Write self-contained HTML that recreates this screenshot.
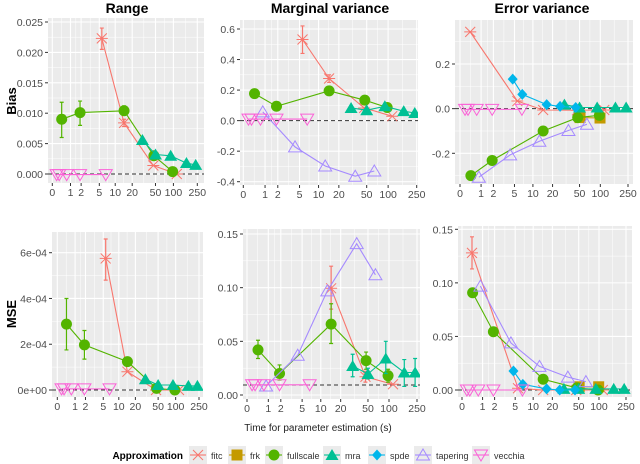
<!DOCTYPE html>
<html><head><meta charset="utf-8"><style>
body{margin:0;background:#fff;}
svg{display:block;font-family:"Liberation Sans",Arial,sans-serif;}
</style></head><body>
<svg id="chart" width="640" height="464" viewBox="0 0 640 464" xmlns="http://www.w3.org/2000/svg">
<text x="127" y="13" text-anchor="middle" font-size="14" font-weight="bold">Range</text>
<text x="330" y="13" text-anchor="middle" font-size="14" font-weight="bold">Marginal variance</text>
<text x="542" y="13" text-anchor="middle" font-size="14" font-weight="bold">Error variance</text>
<text transform="translate(16,101) rotate(-90)" text-anchor="middle" font-size="13" font-weight="bold">Bias</text>
<text transform="translate(16,314) rotate(-90)" text-anchor="middle" font-size="13" font-weight="bold">MSE</text>
<text x="318" y="431" text-anchor="middle" font-size="10" fill="#222">Time for parameter estimation (s)</text>
<g id="legend">
<text x="183" y="459" text-anchor="end" font-size="10" font-weight="bold">Approximation</text>
</g>
</svg>
<script>
// ---- data: times (s) per method ----
const tFitc=[0.4,5.6,14.4,46,114];
const tFrk=[50.8,99];
const tFull=[0.43,1.88,14.4,47,97];
const tMra=[30,50,90,165,235];
const tSpde=[4.66,6.76,16.3,25.9,44];
const tTap=[0.86,4.2,12.6,34.4,64];
const tVec=[0.18,0.3,0.73,1.88,6.66];
const xTicks=[0,1,2,5,10,20,50,100,250];

// Range bias
const rbFitc=[null,0.0223,0.0084,0.0014,0];
const rbFull=[0.009,0.0101,0.0104,0.003,0.0004];
const rbMra=[0.0056,0.0032,0.003,0.0018,0.0015];
const rbVec=[-0.0001,-0.0001,-0.0001,-0.0001,-0.0001];
const rbFitcLo=[null,0.0205,0.0078,null,null];
const rbFitcHi=[null,0.024,0.009,null,null];
const rbFullLo=[0.006,0.008,0.0097,null,null];
const rbFullHi=[0.0118,0.012,0.0112,null,null];
// Marginal variance bias
const mbFitc=[null,0.531,0.276,0.083,0.029];
const mbFull=[0.177,0.094,0.195,0.134,0.086];
const mbMra=[0.083,0.068,0.094,0.062,0.05];
const mbTap=[0.057,-0.172,-0.297,-0.364,-0.33];
const mbVec=[0.01,0.01,0.01,0.01,0.01];
const mbFitcLo=[null,0.44,0.25,null,null];
const mbFitcHi=[null,0.62,0.30,null,null];
// Error variance bias
const ebFitc=[0.344,0.034,-0.006,-0.007,-0.006];
const ebFrk=[-0.040,-0.042];
const ebFull=[-0.30,-0.232,-0.10,-0.04,-0.03];
const ebMra=[0.018,0.005,0.005,0.005,0.005];
const ebSpde=[0.132,0.064,0.018,0.01,0.005];
const ebTap=[-0.307,-0.207,-0.146,-0.098,-0.07];
const ebVec=[-0.003,-0.003,-0.003,-0.003,-0.003];
// Range MSE
const rmFitc=[null,5.75e-4,0.8e-4,0,0];
const rmFull=[2.88e-4,1.97e-4,1.24e-4,0.07e-4,0];
const rmMra=[0.47e-4,0.22e-4,0.22e-4,0.18e-4,0.18e-4];
const rmVec=[0.05e-4,0.05e-4,0.05e-4,0.05e-4,0.05e-4];
const rmFitcLo=[null,4.8e-4,null,null,null];
const rmFitcHi=[null,6.6e-4,null,null,null];
const rmFullLo=[1.75e-4,1.35e-4,1.1e-4,null,null];
const rmFullHi=[4.0e-4,2.6e-4,1.38e-4,null,null];
// Marginal variance MSE
const mmFitc=[null,null,0.0994,0.017,0.010];
const mmFull=[0.042,0.020,0.066,0.032,0.018];
const mmMra=[0.027,0.0196,0.034,0.021,0.021];
const mmTap=[0.0084,0.037,0.097,0.141,0.112];
const mmVec=[0.0095,0.0095,0.0095,0.0095,0.0095];
const mmFitcLo=[null,null,0.08,0.012,null];
const mmFitcHi=[null,null,0.12,0.022,null];
const mmFullLo=[0.034,0.014,0.048,0.024,0.012];
const mmFullHi=[0.051,0.028,0.085,0.04,0.024];
const mmMraLo=[0.017,0.015,0.02,0.008,0.008];
const mmMraHi=[0.038,0.025,0.05,0.033,0.034];
// Error variance MSE
const emFitc=[0.128,0.0016,0,0,0];
const emFrk=[0.003,0.003];
const emFull=[0.0908,0.0544,0.010,0.002,0];
const emMra=[0.001,0.001,0.001,0.001,0.001];
const emSpde=[0.0177,0.0053,0.001,0,0];
const emTap=[0.097,0.044,0.022,0.012,0.0078];
const emVec=[0,0,0,0,0];
const emFitcLo=[0.113,null,null,null,null];
const emFitcHi=[0.143,null,null,null,null];

const COL={fitc:"#F8766D",frk:"#C49A00",fullscale:"#53B400",mra:"#00C094",spde:"#00B6EB",tapering:"#A58AFF",vecchia:"#FB61D7"};
const NS="http://www.w3.org/2000/svg";
const svg=document.getElementById("chart");
function mk(tag,attrs,parent){const e=document.createElementNS(NS,tag);for(const k in attrs)e.setAttribute(k,attrs[k]);(parent||svg).appendChild(e);return e;}

function marker(g,m,x,y,c){
  let e;
  if(m==="fitc"){e=mk("path",{d:`M${x-5},${y-5}L${x+5},${y+5}M${x-5},${y+5}L${x+5},${y-5}M${x-6},${y}L${x+6},${y}`,stroke:c,"stroke-width":1,fill:"none"},g);}
  else if(m==="frk"){e=mk("rect",{x:x-5.5,y:y-5.5,width:11,height:11,fill:c},g);}
  else if(m==="fullscale"){e=mk("circle",{cx:x,cy:y,r:5.5,fill:c},g);}
  else if(m==="mra"){e=mk("path",{d:`M${x},${y-6}L${x+6.5},${y+5}L${x-6.5},${y+5}Z`,fill:c},g);}
  else if(m==="spde"){e=mk("path",{d:`M${x},${y-5.5}L${x+5},${y}L${x},${y+5.5}L${x-5},${y}Z`,fill:c},g);}
  else if(m==="tapering"){e=mk("path",{d:`M${x},${y-6}L${x+6.5},${y+5}L${x-6.5},${y+5}Z`,fill:"none",stroke:c,"stroke-width":1},g);}
  else {e=mk("path",{d:`M${x},${y+6}L${x+6.5},${y-5}L${x-6.5},${y-5}Z`,fill:"none",stroke:c,"stroke-width":1},g);}
  return e;
}

const panels=[
 {id:"range-bias",l:48,r:204,t:18,b:183,xa:52.3,xb:197.3,v1:0.025,p1:22,v2:0,p2:174,ticks:[0,0.005,0.01,0.015,0.02,0.025],lab:v=>v.toFixed(3),ref:0,
  series:[["fitc",tFitc,rbFitc,rbFitcLo,rbFitcHi],["fullscale",tFull,rbFull,rbFullLo,rbFullHi],["mra",tMra,rbMra],["vecchia",tVec,rbVec]]},
 {id:"marginal-variance-bias",l:240,r:418,t:20,b:185,xa:243.3,xb:416.7,v1:0.6,p1:29,v2:-0.4,p2:181.7,ticks:[-0.4,-0.2,0,0.2,0.4,0.6],lab:v=>v.toFixed(1),ref:0,
  series:[["fitc",tFitc,mbFitc,mbFitcLo,mbFitcHi],["fullscale",tFull,mbFull],["mra",tMra,mbMra],["tapering",tTap,mbTap],["vecchia",tVec,mbVec]]},
 {id:"error-variance-bias",l:455,r:633,t:20,b:184,xa:460,xb:628,v1:0.2,p1:64,v2:-0.2,p2:153.3,ticks:[-0.2,0,0.2],lab:v=>v.toFixed(1),ref:0,
  series:[["fitc",tFitc,ebFitc],["frk",tFrk,ebFrk],["fullscale",tFull,ebFull],["mra",tMra,ebMra],["spde",tSpde,ebSpde],["tapering",tTap,ebTap],["vecchia",tVec,ebVec]]},
 {id:"range-mse",l:52,r:203,t:232,b:397,xa:57.3,xb:199,v1:6e-4,p1:252.7,v2:0,p2:390,ticks:[0,2e-4,4e-4,6e-4],lab:v=>v===0?"0e+00":(v*1e4).toFixed(0)+"e-04",ref:0,
  series:[["fitc",tFitc,rmFitc,rmFitcLo,rmFitcHi],["fullscale",tFull,rmFull,rmFullLo,rmFullHi],["mra",tMra,rmMra],["vecchia",tVec,rmVec]]},
 {id:"marginal-variance-mse",l:243,r:420,t:229,b:399,xa:247,xb:417,v1:0.15,p1:234,v2:0,p2:395,ticks:[0,0.05,0.1,0.15],lab:v=>v.toFixed(2),ref:0.0093,
  series:[["fitc",tFitc,mmFitc,mmFitcLo,mmFitcHi],["fullscale",tFull,mmFull,mmFullLo,mmFullHi],["mra",tMra,mmMra,mmMraLo,mmMraHi],["tapering",tTap,mmTap],["vecchia",tVec,mmVec]]},
 {id:"error-variance-mse",l:458,r:632,t:226,b:397,xa:462,xb:626,v1:0.15,p1:229.3,v2:0,p2:390,ticks:[0,0.05,0.1,0.15],lab:v=>v.toFixed(2),ref:0,
  series:[["fitc",tFitc,emFitc,emFitcLo,emFitcHi],["frk",tFrk,emFrk],["fullscale",tFull,emFull],["mra",tMra,emMra],["spde",tSpde,emSpde],["tapering",tTap,emTap],["vecchia",tVec,emVec]]}
];

panels.forEach(P=>{
  const k=(P.xb-P.xa)/Math.log10(251);
  const xs=t=>P.xa+k*Math.log10(1+t);
  const ys=v=>P.p2+(v-P.v2)*(P.p1-P.p2)/(P.v1-P.v2);
  const g=mk("g",{});
  
  
  const bg=mk("rect",{x:P.l,y:P.t,width:P.r-P.l,height:P.b-P.t,fill:"#EBEBEB"},g);
  
  
  const clipId="clip-"+P.id;
  const cp=mk("clipPath",{id:clipId},g);mk("rect",{x:P.l,y:P.t,width:P.r-P.l,height:P.b-P.t},cp);
  const grid=mk("g",{},g);
  
  
  // y grid
  const step=P.ticks[1]-P.ticks[0];
  for(let i=-1;i<P.ticks.length+1;i++){
    const v=P.ticks[0]+i*step, mv=v+step/2;
    const ym=ys(mv); if(ym>P.t&&ym<P.b) mk("line",{x1:P.l,x2:P.r,y1:ym,y2:ym,stroke:"#fff","stroke-width":0.5},grid);
  }
  P.ticks.forEach(v=>{
    const y=ys(v);
    mk("line",{x1:P.l,x2:P.r,y1:y,y2:y,stroke:"#fff","stroke-width":1.1},grid);
    mk("line",{x1:P.l-3,x2:P.l,y1:y,y2:y,stroke:"#333","stroke-width":1},g);
    const tl=mk("text",{x:P.l-5,y:y+4,"text-anchor":"end","font-size":10.5,fill:"#4D4D4D"},g);
    tl.textContent=P.lab(v);
    
    
  });
  // x grid
  for(let i=0;i<xTicks.length-1;i++){
    const xm=(xs(xTicks[i])+xs(xTicks[i+1]))/2;
    mk("line",{x1:xm,x2:xm,y1:P.t,y2:P.b,stroke:"#fff","stroke-width":0.5},grid);
  }
  xTicks.forEach(t=>{
    const x=xs(t);
    mk("line",{x1:x,x2:x,y1:P.t,y2:P.b,stroke:"#fff","stroke-width":1.1},grid);
    mk("line",{x1:x,x2:x,y1:P.b,y2:P.b+3,stroke:"#333","stroke-width":1},g);
    const tl=mk("text",{x:x,y:P.b+13,"text-anchor":"middle","font-size":10.5,fill:"#4D4D4D"},g);
    tl.textContent=String(t);
    
    
  });
  const ref=mk("line",{x1:P.l,x2:P.r,y1:ys(P.ref),y2:ys(P.ref),stroke:"#333","stroke-width":1,"stroke-dasharray":"4,3"},g);
  
  
  const dg=mk("g",{"clip-path":"url(#"+clipId+")"},g);
  P.series.forEach(s=>{
    const [m,ts,vs,lo,hi]=s;const c=COL[m];
    const sg=mk("g",{},dg);
    
    
    const pts=[];
    ts.forEach((t,i)=>{if(vs[i]!==null&&vs[i]!==undefined)pts.push([xs(t),ys(vs[i]),i]);});
    if(pts.length>1){
      const ln=mk("polyline",{points:pts.map(p=>p[0].toFixed(1)+","+p[1].toFixed(1)).join(" "),fill:"none",stroke:c,"stroke-width":1.1},sg);
      
      
    }
    if(lo&&hi){pts.forEach(p=>{const i=p[2];if(lo[i]!=null&&hi[i]!=null){
      const x=p[0],y1=ys(lo[i]),y2=ys(hi[i]);
      const eb=mk("path",{d:`M${x},${y1}L${x},${y2}M${x-2},${y1}L${x+2},${y1}M${x-2},${y2}L${x+2},${y2}`,stroke:c,"stroke-width":1.2,fill:"none"},sg);
      
      
    }});}
    pts.forEach(p=>{
      const e=marker(sg,m,p[0],p[1],c);
      
      
    });
  });
});

// legend
const legItems=[["fitc",198],["frk",237],["fullscale",274],["mra",332],["spde",377],["tapering",423],["vecchia",481]];
const lg=document.getElementById("legend");
legItems.forEach(([m,cx])=>{
  const g=mk("g",{},lg);
  
  
  mk("rect",{x:cx-9,y:446,width:18,height:18,fill:"#EBEBEB"},g);
  mk("line",{x1:cx-8,x2:cx+8,y1:455,y2:455,stroke:COL[m],"stroke-width":1.1},g);
  marker(g,m,cx,455,COL[m]);
  const t=mk("text",{x:cx+13,y:459,"font-size":9,fill:"#333"},g);
  t.textContent=m;
  
  
});
</script>
</body></html>
